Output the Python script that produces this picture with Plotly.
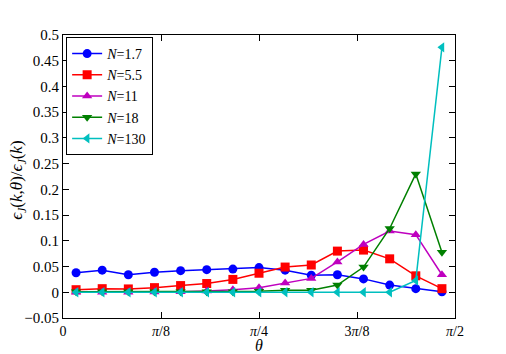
import numpy as np
import plotly.graph_objects as go

# angles: 15 bins centred at 3, 9, ..., 87 degrees
theta_deg = [3, 9, 15, 21, 27, 33, 39, 45, 51, 57, 63, 69, 75, 81, 87]
theta = [np.deg2rad(t) for t in theta_deg]

n_17 = [0.038, 0.043, 0.034, 0.039, 0.042, 0.044, 0.045, 0.048, 0.043, 0.033, 0.034, 0.026, 0.014, 0.007, 0.001]
n_55 = [0.005, 0.007, 0.0065, 0.009, 0.013, 0.017, 0.025, 0.037, 0.049, 0.053, 0.080, 0.082, 0.065, 0.032, 0.007]
n_11 = [0.0, 0.0, 0.0, 0.0005, 0.001, 0.0025, 0.005, 0.009, 0.018, 0.027, 0.059, 0.093, 0.119, 0.112, 0.034]
n_18 = [0.001, 0.001, 0.001, 0.001, 0.001, 0.001, 0.001, 0.002, 0.004, 0.004, 0.014, 0.049, 0.124, 0.230, 0.078]
n_130 = [0.0, 0.0, 0.0, 0.0, 0.0, 0.0, 0.0, 0.0, 0.0, 0.0, 0.0, 0.0, 0.0, 0.023, 0.476]

series = [
    ("1.7", n_17, "#0000ff", "circle"),
    ("5.5", n_55, "#ff0000", "square"),
    ("11", n_11, "#bf00bf", "triangle-up"),
    ("18", n_18, "#008000", "triangle-down"),
    ("130", n_130, "#00bfbf", "triangle-left"),
]

x_tickvals = [0, np.pi / 8, np.pi / 4, 3 * np.pi / 8, np.pi / 2]
x_ticktext = ["0", "<i>π</i>/8", "<i>π</i>/4", "3<i>π</i>/8", "<i>π</i>/2"]
y_tickvals = [round(-0.05 + 0.05 * i, 2) for i in range(12)]
y_ticktext = ["−0.05", "0", "0.05", "0.1", "0.15", "0.2", "0.25", "0.3", "0.35", "0.4", "0.45", "0.5"]

fig = go.Figure()
for label, vals, color, sym in series:
    fig.add_trace(go.Scatter(
        x=theta, y=vals,
        mode="lines+markers",
        name="<i>N</i>=" + label,
        line=dict(color=color, width=1.5),
        marker=dict(symbol=sym, size=9, color=color),
    ))

serif = "Liberation Serif, DejaVu Serif, serif"
font = dict(family=serif, size=15, color="black")
axis = dict(showline=True, linecolor="black", linewidth=1, mirror="ticks",
            ticks="inside", ticklen=6, tickcolor="black", automargin=False,
            showgrid=False, zeroline=False, tickfont=font)

# page body has an 8px margin, so the figure is a bit smaller than the window
fig.update_layout(
    width=498, height=346,
    margin=dict(l=55, r=51, t=27, b=36),
    paper_bgcolor="white", plot_bgcolor="white",
    font=font,
    xaxis=dict(axis, range=[0, np.pi / 2], tickvals=x_tickvals, ticktext=x_ticktext,
               ticklabelstandoff=0, tickfont=dict(family=serif, size=14, color="black")),
    yaxis=dict(axis, range=[-0.05, 0.5], tickvals=y_tickvals, ticktext=y_ticktext),
    legend=dict(x=0.008, y=0.993, xanchor="left", yanchor="top",
                bordercolor="black", borderwidth=1, bgcolor="white",
                font=dict(family=serif, size=14),
                tracegroupgap=0, itemwidth=30),
    showlegend=True,
    annotations=[
        dict(text="<i>θ</i>", xref="paper", yref="paper", x=0.5, y=-0.098,
             xanchor="center", yanchor="middle", showarrow=False, font=dict(family=serif, size=16)),
        dict(text="<i>ϵ</i><sub><i>J</i></sub>(<i>k</i>,<i>θ</i>)/<i>ϵ</i><sub><i>J</i></sub>(<i>k</i>)",
             xref="paper", yref="paper", x=-0.115, y=0.488, textangle=-90,
             xanchor="center", yanchor="middle", showarrow=False, font=dict(family=serif, size=17)),
    ],
)

fig.write_html("out.html")
